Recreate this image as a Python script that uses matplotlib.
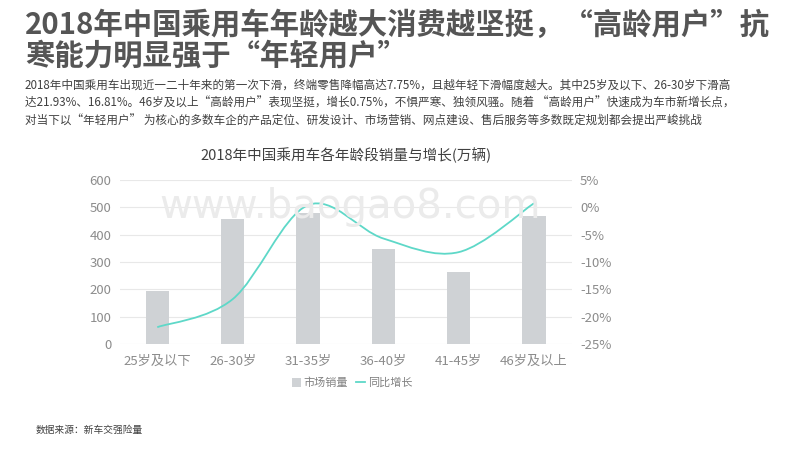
import matplotlib
matplotlib.use("Agg")
import matplotlib.pyplot as plt
from matplotlib.path import Path
from matplotlib.patches import PathPatch
from matplotlib.lines import Line2D
from matplotlib.patches import Patch


plt.rcParams["font.family"] = ["Noto Sans CJK SC", "DejaVu Sans"]

# data
age_groups = ["25岁及以下", "26-30岁", "31-35岁", "36-40岁", "41-45岁", "46岁及以上"]
sales = [193, 458, 481, 349, 265, 470]              # 万辆
growth = [-21.93, -16.81, 0.4, -5.7, -8.2, 0.75]    # %

left_ticks = [0, 100, 200, 300, 400, 500, 600]
right_ticks = [-25, -20, -15, -10, -5, 0, 5]

TITLE = "2018年中国乘用车年龄越大消费越坚挺，“高龄用户”抗\n寒能力明显强于“年轻用户”"
BODY = [
    "2018年中国乘用车出现近一二十年来的第一次下滑，终端零售降幅高达7.75%，且越年轻下滑幅度越大。其中25岁及以下、26-30岁下滑高",
    "达21.93%、16.81%。46岁及以上“高龄用户”表现坚挺，增长0.75%，不惧严寒、独领风骚。随着 “高龄用户”快速成为车市新增长点，",
    "对当下以“年轻用户” 为核心的多数车企的产品定位、研发设计、市场营销、网点建设、售后服务等多数既定规划都会提出严峻挑战",
]

BAR_COLOR = "#CFD2D5"
LINE_COLOR = "#5ED8C8"
TICK_COLOR = "#8C8C8C"


def smooth_path(xs, ys):
    # Excel style smoothed line: catmull-rom segments as cubic beziers
    pts = list(zip(xs, ys))
    n = len(pts)
    verts = [pts[0]]
    codes = [Path.MOVETO]
    for i in range(n - 1):
        p0 = pts[i - 1] if i > 0 else pts[i]
        p1 = pts[i]
        p2 = pts[i + 1]
        p3 = pts[i + 2] if i + 2 < n else pts[i + 1]
        c1 = (p1[0] + (p2[0] - p0[0]) / 6, p1[1] + (p2[1] - p0[1]) / 6)
        c2 = (p2[0] - (p3[0] - p1[0]) / 6, p2[1] - (p3[1] - p1[1]) / 6)
        verts += [c1, c2, p2]
        codes += [Path.CURVE4] * 3
    return Path(verts, codes)


fig = plt.figure(figsize=(8, 4.5), dpi=100)

fig.text(0.031, 0.977, TITLE, ha="left", va="top", fontsize=21.2,
         fontweight="bold", color="#555555", linespacing=1.02)

for i, line in enumerate(BODY):
    fig.text(0.031, 0.81 - i * 0.04, line, ha="left", va="center",
             fontsize=8.35, color="#404040")

fig.text(0.044, 0.045, "数据来源：新车交强险量", ha="left", va="center",
         fontsize=7, color="#404040")

# watermark
fig.text(0.437, 0.54, "www.baogao8.com", ha="center", va="center",
         fontsize=29, color="#EBEBEB", family="DejaVu Sans", zorder=0)

ax = fig.add_axes([0.1495, 0.2356, 0.5651, 0.3644])
x = list(range(len(age_groups)))
ax.bar(x, sales, width=0.31, color=BAR_COLOR, zorder=2)
ax.set_xlim(-0.5, len(age_groups) - 0.5)
ax.set_ylim(0, 600)
ax.set_yticks(left_ticks)
ax.set_xticks(x)
ax.set_xticklabels(age_groups)
ax.grid(axis="y", color="#E8E8E8", linewidth=0.8, zorder=0)
ax.set_axisbelow(True)
for s in ax.spines.values():
    s.set_visible(False)
ax.tick_params(length=0, colors=TICK_COLOR, labelsize=9.5)
ax.tick_params(axis="x", pad=8)
ax.tick_params(axis="y", pad=6)
ax.patch.set_alpha(0)

ax2 = ax.twinx()
ax2.set_ylim(-25, 5)
ax2.set_yticks(right_ticks)
ax2.set_yticklabels([f"{t}%" for t in right_ticks])
for s in ax2.spines.values():
    s.set_visible(False)
ax2.tick_params(length=0, colors=TICK_COLOR, labelsize=9.5, pad=6)
ax2.add_patch(PathPatch(smooth_path(x, growth), facecolor="none",
                        edgecolor=LINE_COLOR, linewidth=1.3, zorder=3))

ax.set_title("2018年中国乘用车各年龄段销量与增长(万辆)", fontsize=10.5,
             color="#404040", pad=14)

handles = [Patch(facecolor=BAR_COLOR, label="市场销量"),
           Line2D([0], [0], color=LINE_COLOR, linewidth=1.3, label="同比增长")]
leg = fig.legend(handles=handles, loc="center", bbox_to_anchor=(0.44, 0.149),
                 ncol=2, frameon=False, fontsize=8, handlelength=0.8,
                 handleheight=0.8, handletextpad=0.2, columnspacing=0.8)
for t in leg.get_texts():
    t.set_color("#808080")

fig.savefig("out.png", dpi=100)
